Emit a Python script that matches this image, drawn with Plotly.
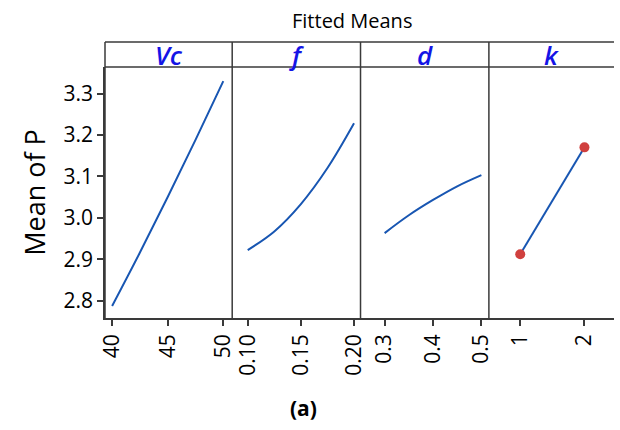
import plotly.graph_objects as go

# ---- data ----
vc_x = [40, 42.5, 45, 47.5, 50]
vc_y = [2.787, 2.916, 3.050, 3.188, 3.330]
f_x = [0.10, 0.125, 0.15, 0.175, 0.20]
f_y = [2.922, 2.967, 3.033, 3.120, 3.228]
d_x = [0.3, 0.35, 0.4, 0.45, 0.5]
d_y = [2.963, 3.006, 3.043, 3.076, 3.103]
k_x = [1, 2]
k_y = [2.912, 3.170]

panel_names = ["Vc", "f", "d", "k"]
vc_ticks = [40, 45, 50]
vc_ticktext = ["40", "45", "50"]
f_ticks = [0.10, 0.15, 0.20]
f_ticktext = ["0.10", "0.15", "0.20"]
d_ticks = [0.3, 0.4, 0.5]
d_ticktext = ["0.3", "0.4", "0.5"]
k_ticks = [1, 2]
k_ticktext = ["1", "2"]
y_ticks = [2.8, 2.9, 3.0, 3.1, 3.2, 3.3]
y_ticktext = ["2.8", "2.9", "3.0", "3.1", "3.2", "3.3"]

FONT = "Open Sans"
LINE = "rgb(24,86,178)"
DOT = "rgb(208,64,62)"
AX = "#3a3a3a"

fig = go.Figure()
fig.add_trace(go.Scatter(x=vc_x, y=vc_y, mode="lines", line=dict(color=LINE, width=2, shape="spline"),
                         xaxis="x", yaxis="y", showlegend=False))
fig.add_trace(go.Scatter(x=f_x, y=f_y, mode="lines", line=dict(color=LINE, width=2, shape="spline"),
                         xaxis="x2", yaxis="y", showlegend=False))
fig.add_trace(go.Scatter(x=d_x, y=d_y, mode="lines", line=dict(color=LINE, width=2, shape="spline"),
                         xaxis="x3", yaxis="y", showlegend=False))
fig.add_trace(go.Scatter(x=k_x, y=k_y, mode="lines+markers", line=dict(color=LINE, width=2),
                         marker=dict(color=DOT, size=10), xaxis="x4", yaxis="y", showlegend=False))

domains = [[0, 0.2499], [0.2499, 0.502], [0.502, 0.7542], [0.7542, 1.0]]
ranges = [[39.36, 50.80], [0.0854, 0.2061], [0.2502, 0.5155], [0.512, 2.46]]
ticks = [(vc_ticks, vc_ticktext), (f_ticks, f_ticktext), (d_ticks, d_ticktext), (k_ticks, k_ticktext)]

tickfont = dict(family=FONT, size=21, color="black", weight=500)
common_x = dict(showgrid=False, zeroline=False, showline=True, linecolor=AX, linewidth=1.5,
                ticks="outside", ticklen=6, tickwidth=1.5, tickcolor=AX, tickangle=-90,
                tickfont=tickfont, anchor="y")
layout_axes = {}
for i in range(4):
    name = "xaxis" if i == 0 else f"xaxis{i+1}"
    layout_axes[name] = dict(common_x, domain=domains[i], range=ranges[i],
                             tickmode="array", tickvals=ticks[i][0], ticktext=ticks[i][1])

head_top = 1 + 25.0 / 251.3
shapes = []
shapes.append(dict(type="line", xref="paper", yref="paper", x0=0, x1=1, y0=head_top, y1=head_top,
                   line=dict(color=AX, width=1.5)))
shapes.append(dict(type="line", xref="paper", yref="paper", x0=0, x1=1, y0=1, y1=1,
                   line=dict(color=AX, width=1.5)))
shapes.append(dict(type="line", xref="paper", yref="paper", x0=0, x1=0, y0=0, y1=head_top,
                   line=dict(color=AX, width=1.5)))
for xd in [domains[1][0], domains[2][0], domains[3][0]]:
    shapes.append(dict(type="line", xref="paper", yref="paper", x0=xd, x1=xd, y0=0, y1=head_top,
                       line=dict(color=AX, width=1.5)))

annotations = []
for i, nm in enumerate(panel_names):
    annotations.append(dict(text=f"<i>{nm}</i>", xref="paper", yref="paper",
                            x=(domains[i][0] + domains[i][1]) / 2, y=(1 + head_top) / 2,
                            showarrow=False, xanchor="center", yanchor="middle",
                            font=dict(family=FONT, size=26, color="rgb(20,20,230)", weight=600)))
annotations.append(dict(text="Fitted Means", xref="paper", yref="paper", x=0.485, y=head_top,
                        yshift=22, showarrow=False, xanchor="center", yanchor="middle",
                        font=dict(family=FONT, size=20, color="black", weight=500)))
annotations.append(dict(text="<b>(a)</b>", xref="paper", yref="paper", x=0.39, y=0, yshift=-90,
                        showarrow=False, xanchor="center", yanchor="middle",
                        font=dict(family=FONT, size=21, color="black")))

fig.update_layout(
    width=620, height=430,
    margin=dict(l=105, r=0, t=67, b=112),
    paper_bgcolor="white", plot_bgcolor="white",
    yaxis=dict(range=[2.758, 3.364], showgrid=False, zeroline=False, showline=True,
               linecolor=AX, linewidth=1.5, ticks="outside", ticklen=6, tickwidth=1.5,
               tickcolor=AX, tickmode="array", tickvals=y_ticks, ticktext=y_ticktext,
               tickfont=tickfont,
               title=dict(text="Mean of P",
                          font=dict(family=FONT, size=27, color="black", weight=500),
                          standoff=10),
               anchor="x"),
    shapes=shapes, annotations=annotations,
    **layout_axes,
)

fig.write_html("out.html")
